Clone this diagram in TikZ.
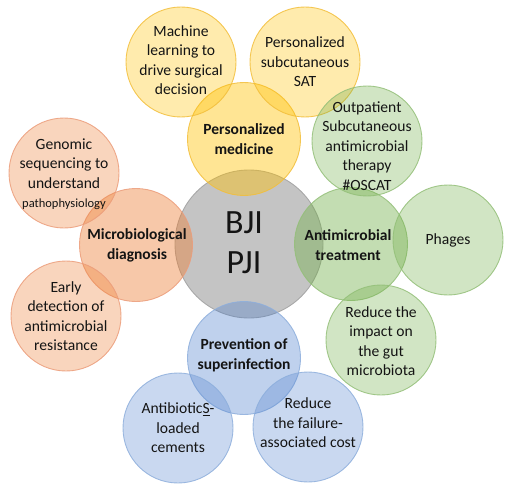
\documentclass[tikz,border=0pt]{standalone}
\usepackage{fontspec}
\setmainfont{Carlito}
\definecolor{ybase}{HTML}{FFC000}
\definecolor{yedge}{HTML}{F2BE3A}
\definecolor{obase}{HTML}{ED7D31}
\definecolor{oedge}{HTML}{EB9C7A}
\definecolor{gbase}{HTML}{70AD47}
\definecolor{gedge}{HTML}{93BF78}
\definecolor{bbase}{HTML}{4D7FCC}
\definecolor{bedge}{HTML}{8DAEDC}
\definecolor{kbase}{HTML}{A5A5A5}
\definecolor{kedge}{HTML}{A8A8A8}
\begin{document}
\begin{tikzpicture}[x=1pt,y=-1pt,
  bub/.style={circle, inner sep=0pt, minimum size=110pt, line width=0.9pt, fill opacity=0.32, draw opacity=0.85},
  bigbub/.style={bub, minimum size=113pt, fill opacity=0.42},
  ybub/.style={fill=ybase, draw=yedge},
  obub/.style={fill=obase, draw=oedge},
  gbub/.style={fill=gbase, draw=gedge},
  bbub/.style={fill=bbase, draw=bedge, fill opacity=0.3},
  bbigbub/.style={fill=bbase, draw=bedge, fill opacity=0.36},
  txt/.style={align=center, text=black!92, font=\fontsize{15.6}{19.5}\selectfont},
  btxt/.style={align=center, text=black!92, font=\bfseries\fontsize{15.5}{20}\selectfont},
  coretxt/.style={align=center, text=black!92, font=\fontsize{34}{40}\selectfont}
]
\useasboundingbox (0,0) rectangle (510,489);
% core
\node[circle, inner sep=0pt, minimum size=148pt, fill=kbase, fill opacity=0.65, draw=kedge, line width=0.9pt] (core) at (249,244) {};
% main themes
\node[bigbub, ybub] (pm) at (244,139) {};
\node[bigbub, obub] (md) at (136,245) {};
\node[bigbub, gbub] (at) at (351,244) {};
\node[bigbub, bbigbub] (ps) at (244,358) {};
% outer bubbles
\node[bub, ybub] (ml) at (181,62) {};
\node[bub, ybub] (sat) at (305,62) {};
\node[bub, gbub] (op) at (367,141) {};
\node[bub, gbub] (ph) at (448,240) {};
\node[bub, gbub] (ri) at (381,340) {};
\node[bub, bbub] (rf) at (308,427) {};
\node[bub, bbub] (al) at (178,428) {};
\node[bub, obub] (ed) at (66,316) {};
\node[bub, obub] (gs) at (64,173) {};
% texts
\node[coretxt] (coret) at ([shift={(-5,-1)}]core.center) {BJI\\PJI};
\node[btxt] (pmt) at (pm.center) {Personalized\\medicine};
\node[btxt] (mdt) at ([shift={(1,0)}]md.center) {Microbiological\\diagnosis};
\node[btxt] (att) at ([shift={(-3,1)}]at.center) {Antimicrobial\\treatment};
\node[btxt] (pst) at ([shift={(0,-3)}]ps.center) {Prevention of\\superinfection};
\node[txt] (mlt) at ([shift={(0,-2)}]ml.center) {Machine\\learning to\\drive surgical\\decision};
\node[txt] (satt) at (sat.center) {Personalized\\subcutaneous\\SAT};
\node[txt] (opt) at ([shift={(0,5)}]op.center) {Outpatient\\Subcutaneous\\antimicrobial\\therapy\\\#OSCAT};
\node[txt] (pht) at (ph.center) {Phages};
\node[txt] (rit) at ([shift={(0,1)}]ri.center) {Reduce the\\impact on\\the gut\\microbiota};
\node[txt] (rft) at ([shift={(0,-4)}]rf.center) {Reduce\\the failure-\\associated cost};
\node[txt] (alt) at (al.center) {Antibiotic\underline{S}-\\loaded\\cements};
\node[txt] (edt) at (ed.center) {Early\\detection of\\antimicrobial\\resistance};
\node[txt] (gst) at ([shift={(0,1)}]gs.center) {Genomic\\sequencing to\\understand\\{\fontsize{12.5}{15}\selectfont pathophysiology}};
\end{tikzpicture}
\end{document}
